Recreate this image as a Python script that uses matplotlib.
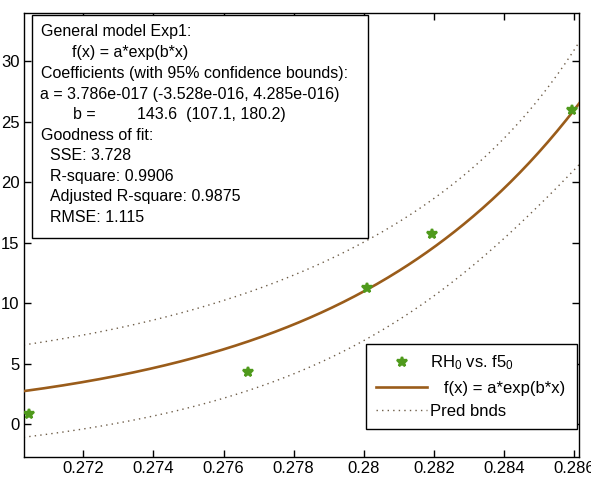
import numpy as np
import matplotlib
matplotlib.use("Agg")
import matplotlib.pyplot as plt
from matplotlib.patches import Rectangle

plt.rcParams['font.family'] = ['Liberation Sans', 'DejaVu Sans']
plt.rcParams['mathtext.fontset'] = 'custom'
plt.rcParams['mathtext.rm'] = 'Liberation Sans'
plt.rcParams['mathtext.default'] = 'regular'

# data
x_data = [0.27046, 0.27669, 0.28008, 0.28196, 0.28595]
y_data = [0.83, 4.27, 11.22, 15.72, 26.0]

# fit coefficients (from the annotation)
a_coef = 3.786e-17
b_coef = 143.6
rmse = 1.115
t_val = 3.1824  # t(0.975, 3 dof)

xticks = [0.272, 0.274, 0.276, 0.278, 0.28, 0.282, 0.284, 0.286]
xtick_labels = ['0.272', '0.274', '0.276', '0.278', '0.28', '0.282', '0.284', '0.286']
yticks = [0, 5, 10, 15, 20, 25, 30]

info_lines = [
    ("General model Exp1:", 40.7, 31.7),
    ("f(x) = a*exp(b*x)", 71.7, 52.5),
    ("Coefficients (with 95% confidence bounds):", 40.7, 73.5),
    ("a = 3.786e-017 (-3.528e-016, 4.285e-016)", 40.0, 94.0),
    ("b =", 72.7, 114.5),
    ("143.6  (107.1, 180.2)", 136.7, 114.5),
    ("Goodness of fit:", 40.7, 135.0),
    ("SSE: 3.728", 50.0, 155.5),
    ("R-square: 0.9906", 50.0, 176.0),
    ("Adjusted R-square: 0.9875", 50.0, 196.5),
    ("RMSE: 1.115", 50.0, 217.0),
]

W, H = 591, 480
fig = plt.figure(figsize=(W / 100, H / 100), dpi=100)
L, R, T, B = 23.7, 579.3, 13.0, 456.7
ax = fig.add_axes([L / W, 1 - B / H, (R - L) / W, (B - T) / H])

xd = np.array(x_data)
yd = np.array(y_data)
xlim = (0.2703, 0.28615)
xx = np.linspace(xlim[0], xlim[1], 300)
fx = a_coef * np.exp(b_coef * xx)

# prediction bounds (nonlinear regression, Jacobian in centred parametrisation)
xc = xd.mean()
fd = a_coef * np.exp(b_coef * xd)
J = np.column_stack([fd, (xd - xc) * fd])
C = rmse ** 2 * np.linalg.inv(J.T @ J)
J0 = np.column_stack([fx, (xx - xc) * fx])
var_pred = rmse ** 2 + np.einsum('ij,jk,ik->i', J0, C, J0)
half = t_val * np.sqrt(var_pred)

ax.plot(xd, yd, linestyle='none', marker='*', markersize=7.5, mew=1.7,
        color='#4f9a1c', label='RH$_0$ vs. f5$_0$', zorder=4)
ax.plot(xx, fx, color='#9a5c1a', lw=1.9, label='   f(x) = a*exp(b*x)', zorder=3)
ax.plot(xx, fx + half, color='#6e5d48', lw=1.0, linestyle=(0, (1, 3)),
        label='Pred bnds', zorder=2)
ax.plot(xx, fx - half, color='#6e5d48', lw=1.0, linestyle=(0, (1, 3)), zorder=2)

ax.set_xlim(*xlim)
ax.set_ylim(-2.7, 34.0)
ax.set_xticks(xticks)
ax.set_xticklabels(xtick_labels)
ax.set_yticks(yticks)
ax.tick_params(direction='in', length=5, width=1, top=True, right=True,
               labelsize=12, pad=3, colors='black')
for s in ax.spines.values():
    s.set_linewidth(1.0)

leg = ax.legend(loc='lower left', bbox_to_anchor=(0.6156, 0.0624, 0.3803, 0.1961),
                mode='expand', borderaxespad=0, fontsize=12, fancybox=False,
                edgecolor='black', framealpha=1, handlelength=3.1,
                handletextpad=0.18, labelspacing=0.5, borderpad=0.6)
leg.get_frame().set_linewidth(1.0)

# info box
def fx_(px):
    return px / W

def fy_(py):
    return 1 - py / H

fig.patches.append(Rectangle((fx_(32), fy_(238)), fx_(368) - fx_(32), fy_(15) - fy_(238),
                             transform=fig.transFigure, facecolor='white',
                             edgecolor='black', lw=1.0, zorder=5))
for txt, px, py in info_lines:
    fig.text(fx_(px), fy_(py), txt, fontsize=11.5, ha='left', va='center', zorder=6)

fig.savefig('out.png', dpi=100)
